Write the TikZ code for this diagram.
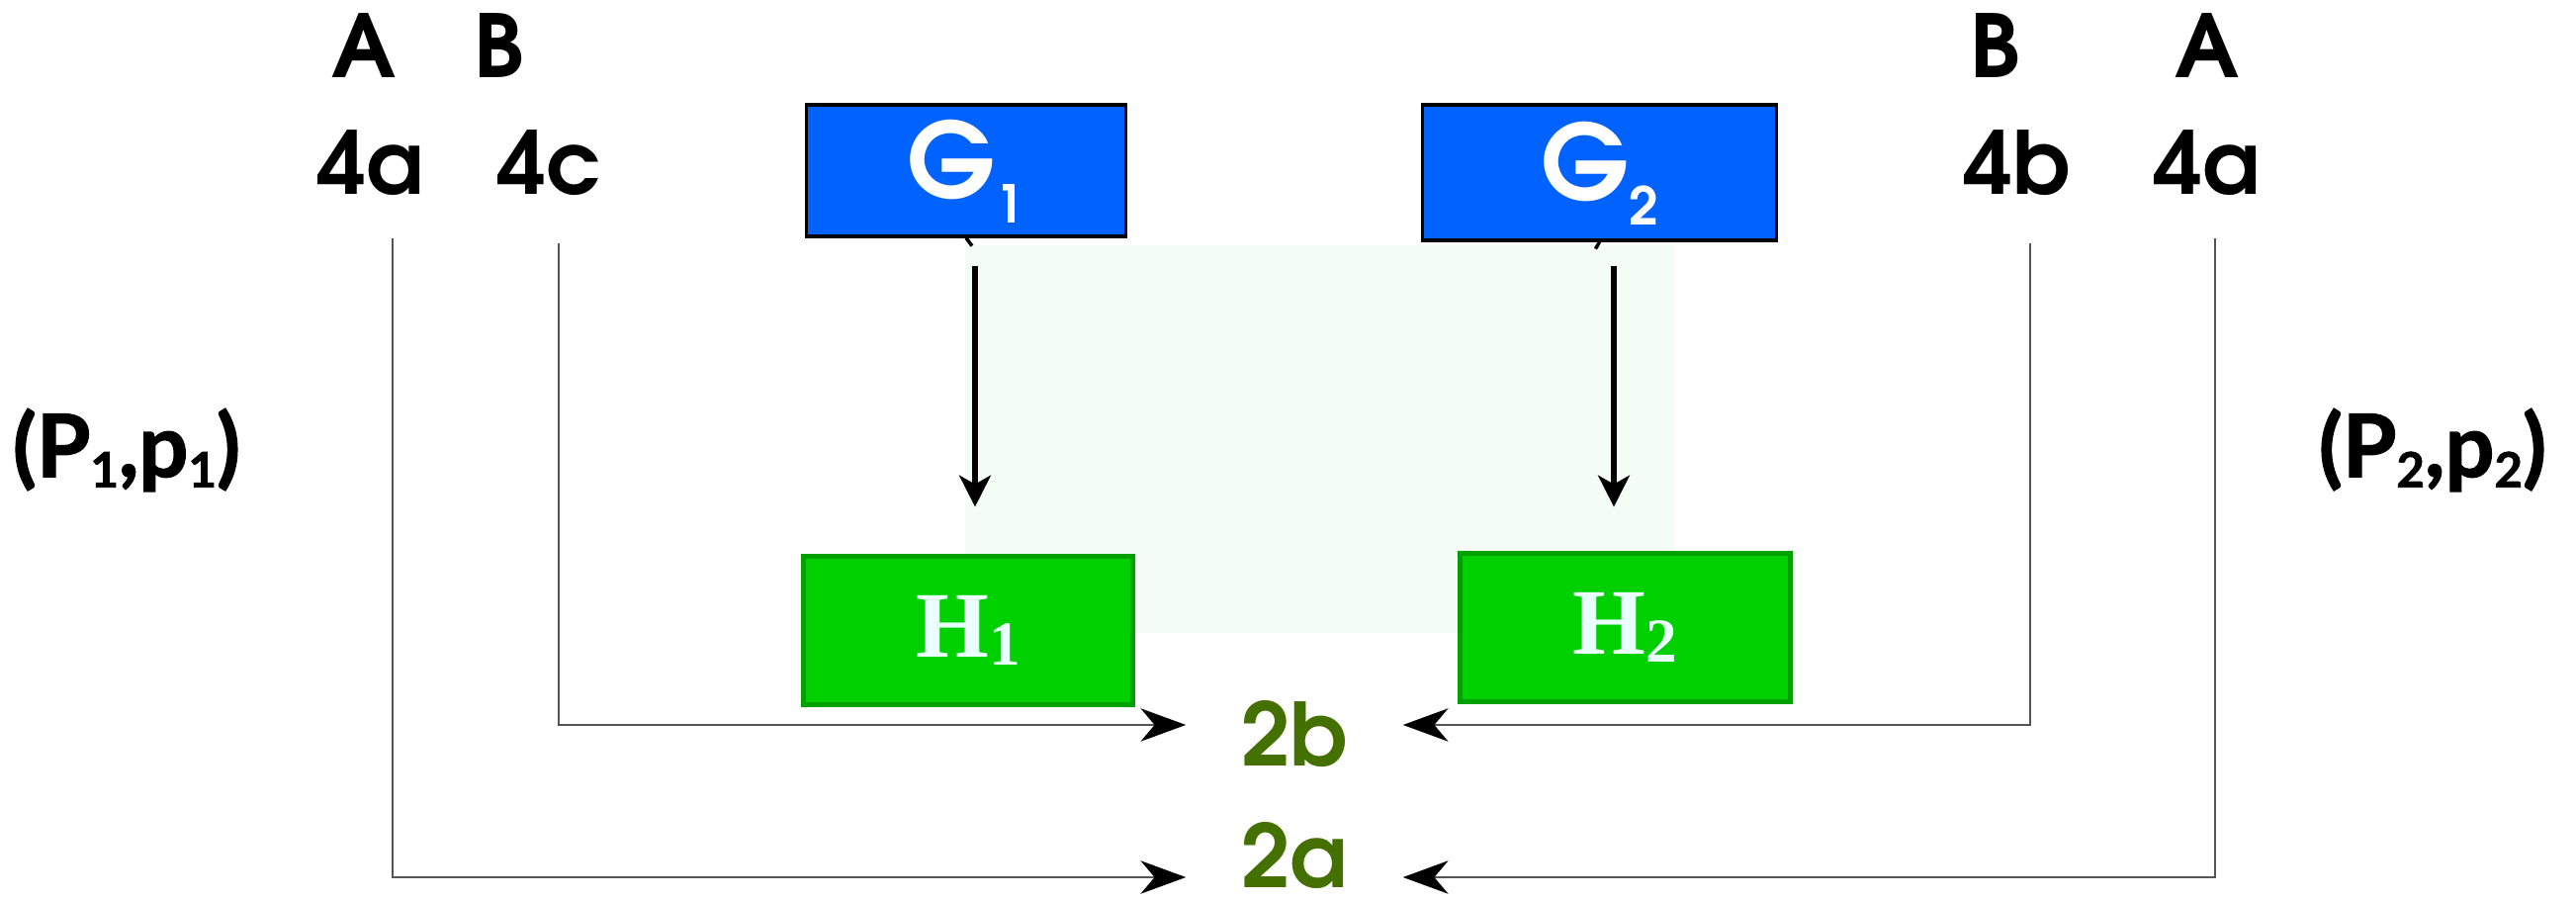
\documentclass[tikz,border=0pt]{standalone}
\usepackage[T1,TU]{fontenc}
\usepackage{fontspec}
\usetikzlibrary{arrows.meta}
\newfontfamily\pairfont{Lato}[BoldFeatures={FakeBold=1.5}]
\newfontfamily\hostfont{Liberation Serif}
\newcommand{\gothic}{\fontencoding{T1}\fontfamily{pag}\fontseries{b}\selectfont}
\newcommand{\dropsub}[3]{\raisebox{-#2}{\fontsize{#1}{#1}\selectfont #3}}
\definecolor{GateBlue}{HTML}{0062FF}
\definecolor{HostGreen}{HTML}{00D000}
\definecolor{HostEdge}{HTML}{00A000}
\definecolor{HostText}{HTML}{EAFFFF}
\definecolor{SinkOlive}{HTML}{447000}
\definecolor{ZonePale}{HTML}{F3FDF5}
\definecolor{WireGray}{HTML}{555555}

\begin{document}
\begin{tikzpicture}[x=0.01cm,y=-0.01cm]
    \tikzset{portlabel/.style={font=\fontsize{25}{30}\selectfont\gothic,inner sep=0pt},
      pairlabel/.style={font=\fontsize{25}{30}\selectfont\pairfont\bfseries,inner sep=0pt},
      gatebox/.style={draw=black,line width=0.9pt,fill=GateBlue,text=white,
        font=\fontsize{30}{34}\selectfont\gothic,inner sep=0pt},
      hostbox/.style={draw=HostEdge,line width=1.4pt,fill=HostGreen,text=HostText,
        font=\fontsize{27}{30}\selectfont\hostfont\bfseries,inner sep=0pt,
        minimum width=3.33cm,minimum height=1.49cm},
      sinklabel/.style={font=\fontsize{25}{30}\selectfont\gothic,text=SinkOlive,
        inner sep=0pt,minimum width=2.18cm},
      wire/.style={draw=WireGray,line width=0.6pt},
      feed/.style={wire,-{Stealth[length=13pt,width=9.5pt,inset=4pt,color=black]}},
      drop/.style={line width=1.7pt,-{Stealth[length=9pt,width=9pt,inset=2.5pt]}}}
    \useasboundingbox (0,0) rectangle (2605,910);
    % pale backdrop behind both chains
    \fill[ZonePale] (976,248) rectangle (1693,640);

    % port labels, left and right
    \node[portlabel] (tA1) at (368,47) {A};
    \node[portlabel] (tB1) at (505,47) {B};
    \node[portlabel] (t4a1) at (375,165) {4a};
    \node[portlabel] (t4c) at (556,165) {4c};
    \node[portlabel] (tB2) at (2018,47) {B};
    \node[portlabel] (tA2) at (2232,47) {A};
    \node[portlabel] (t4b) at (2040,165) {4b};
    \node[portlabel] (t4a2) at (2232,165) {4a};
    \node[pairlabel] (pair1) at (128,455) {(P\dropsub{14}{3pt}{1},p\dropsub{14}{3pt}{1})};
    \node[pairlabel] (pair2) at (2460,455) {(P\dropsub{14}{3pt}{2},p\dropsub{14}{3pt}{2})};

    \node[gatebox,minimum width=3.22cm,minimum height=1.33cm] (G1) at (977,172.5) {G\dropsub{15}{7pt}{1}};
    \node[gatebox,minimum width=3.57cm,minimum height=1.37cm] (G2) at (1617.5,174.5) {G\dropsub{15}{7pt}{2}};
    \node[hostbox] (H1) at (979,637.5) {H\dropsub{18}{2.5pt}{1}};
    \node[hostbox] (H2) at (1643.5,634.5) {H\dropsub{18}{2.5pt}{2}};

    \node[sinklabel] (n2b) at (1309,741) {2b};
    \node[sinklabel] (n2a) at (1309,864) {2a};

    \draw[drop,shorten <=0.28cm,shorten >=0.48cm] ([xshift=0.09cm]G1.south) -- ([xshift=0.09cm]G1.south |- H1.north);
    \draw[drop,shorten <=0.24cm,shorten >=0.45cm] ([xshift=0.145cm]G2.south) -- ([xshift=0.145cm]G2.south |- H2.north);
    \draw[line width=1pt] (G1.south) -- ++(6,8);
    \draw[line width=1pt] (G2.south) -- ++(-4,7);

    % rails down to the two sinks
    \coordinate (railA1) at (397,241);
    \coordinate (railC) at (565,246);
    \coordinate (railB) at (2053,246);
    \coordinate (railA2) at (2240,241);
    \draw[feed] (railA1) |- ([yshift=-0.23cm]n2a.west);
    \draw[feed] (railC) |- ([yshift=0.08cm]n2b.west);
    \draw[feed] (railB) |- ([yshift=0.08cm]n2b.east);
    \draw[feed] (railA2) |- ([yshift=-0.23cm]n2a.east);
  \end{tikzpicture}
\end{document}
